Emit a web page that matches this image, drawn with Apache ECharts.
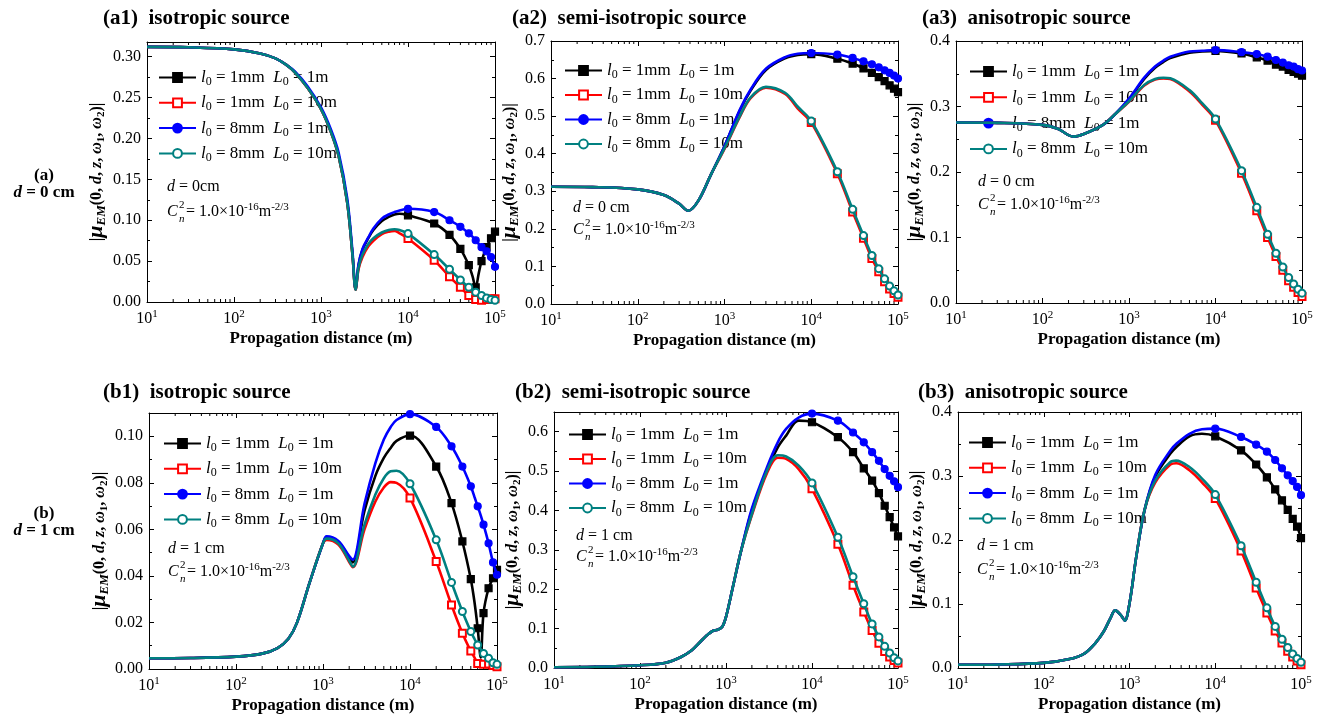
<!DOCTYPE html>
<html><head><meta charset="utf-8">
<script src="https://cdn.jsdelivr.net/npm/echarts@6/dist/echarts.min.js"></script>
<style>html,body{margin:0;padding:0;background:#fff}#c{width:1320px;height:718px}</style>
</head><body><div id="c"></div><script>
const FONT = '"Liberation Serif", "Times New Roman", serif';

// ---------- DATA ----------
const NAMES = ['l0 = 1mm  L0 = 1m', 'l0 = 1mm  L0 = 10m', 'l0 = 8mm  L0 = 1m', 'l0 = 8mm  L0 = 10m'];
const X_TICK_LABELS = ['10^1', '10^2', '10^3', '10^4', '10^5'];
const MINOR_X = [20,30,40,50,60,70,80,90,200,300,400,500,600,700,800,900,2000,3000,4000,5000,6000,7000,8000,9000,20000,30000,40000,50000,60000,70000,80000,90000];

// (a1) isotropic source, d = 0 cm
const X_A1 = [10,30,100,200,300,400,500,700,1000,1300,1600,2000,2300,2500,2700,3000,3500,4000,5000,6000,7000,8000,10000,20000,30000,40000,50000,55000,60000,65000,70000,80000,90000,100000];
const A1_BLACK = [.312,.3115,.309,.304,.298,.290,.281,.262,.236,.208,.178,.122,.058,.015,.045,.064,.078,.088,.099,.104,.107,.108,.106,.096,.082,.065,.045,.032,.018,.035,.050,.067,.078,.086];
const A1_RED   = [.312,.3115,.309,.304,.298,.290,.281,.262,.236,.208,.178,.122,.058,.015,.040,.055,.068,.075,.083,.086,.087,.084,.0776,.051,.031,.018,.008,.005,.003,.002,.002,.003,.004,.004];
const A1_BLUE  = [.312,.3115,.309,.304,.298,.290,.282,.264,.238,.211,.182,.127,.062,.016,.046,.065,.079,.090,.102,.107,.110,.112,.114,.110,.100,.092,.084,.080,.0755,.071,.067,.062,.055,.043];
const A1_TEAL  = [.312,.3115,.309,.304,.298,.290,.281,.262,.236,.208,.178,.122,.058,.015,.042,.058,.071,.078,.085,.088,.089,.088,.0837,.058,.040,.027,.018,.015,.012,.010,.008,.005,.003,.002];

// (a2) semi-isotropic source, d = 0 cm
const X_A2 = [10,30,100,200,300,383,500,700,1000,1500,2000,3000,5000,7000,10000,20000,30000,40000,50000,60000,70000,80000,90000,100000];
const A2_BLACK = [.312,.311,.305,.290,.267,.248,.275,.345,.420,.515,.568,.623,.654,.663,.665,.653,.640,.627,.615,.604,.593,.582,.573,.564];
const A2_RED   = [.312,.311,.305,.290,.267,.248,.275,.345,.413,.498,.548,.576,.559,.520,.483,.347,.245,.175,.121,.086,.059,.040,.028,.018];
const A2_BLUE  = [.312,.311,.305,.290,.267,.248,.275,.345,.420,.517,.571,.626,.657,.666,.668,.664,.655,.646,.638,.630,.622,.615,.608,.600];
const A2_TEAL  = [.312,.311,.305,.290,.267,.248,.275,.345,.415,.500,.550,.578,.562,.525,.487,.352,.252,.182,.129,.094,.067,.048,.035,.024];

// (a3) anisotropic source, d = 0 cm
const X_A3 = [10,30,100,150,229,300,500,700,1000,1500,2000,2500,3000,5000,7000,10000,20000,30000,40000,50000,60000,70000,80000,90000,100000];
const A3_BLACK = [.2755,.275,.272,.266,.254,.258,.272,.289,.311,.342,.359,.368,.374,.382,.384,.385,.381,.375,.370,.364,.361,.356,.353,.350,.347];
const A3_RED   = [.2755,.275,.272,.266,.254,.258,.272,.289,.307,.332,.341,.343,.342,.323,.303,.279,.198,.141,.100,.071,.050,.034,.024,.016,.010];
const A3_BLUE  = [.2755,.275,.272,.266,.254,.258,.272,.289,.312,.344,.361,.370,.376,.384,.385,.386,.383,.380,.376,.371,.367,.363,.361,.357,.355];
const A3_TEAL  = [.2755,.275,.272,.266,.254,.258,.272,.289,.308,.333,.342,.344,.343,.325,.305,.281,.202,.146,.105,.076,.055,.039,.029,.021,.015];

// (b1) isotropic source, d = 1 cm
const X_B1 = [10,30,100,200,300,400,500,700,1000,1100,1500,2000,2200,3000,4000,5000,6000,7000,10000,20000,30000,40000,50000,55000,60000,65000,70000,80000,90000,100000];
const B1_BLACK = [.0046,.0047,.0053,.0066,.009,.013,.0197,.037,.054,.0565,.0545,.048,.0458,.068,.083,.0907,.095,.098,.1003,.087,.0713,.0548,.0386,.029,.0175,.005,.024,.0347,.039,.0426];
const B1_RED   = [.0046,.0047,.0053,.0066,.009,.013,.0197,.037,.054,.0555,.0535,.046,.0437,.060,.072,.078,.0803,.080,.0735,.0462,.0275,.0154,.0077,.005,.0024,.0015,.002,.0022,.0015,.001];
const B1_BLUE  = [.0046,.0047,.0053,.0066,.009,.013,.0197,.037,.054,.057,.055,.0485,.047,.071,.0885,.0986,.104,.107,.1095,.104,.0957,.087,.0785,.074,.0699,.066,.062,.054,.0458,.0405];
const B1_TEAL  = [.0046,.0047,.0053,.0066,.009,.013,.0197,.037,.054,.056,.054,.0465,.044,.062,.075,.082,.085,.0852,.0796,.0555,.0372,.0247,.0161,.013,.0103,.0085,.0067,.0046,.0027,.002];

// (b2) semi-isotropic source, d = 1 cm
const X_B2 = [10,30,100,200,300,400,500,600,700,800,900,1000,1200,1500,2000,3000,4000,5000,7000,10000,20000,30000,40000,50000,60000,70000,80000,90000,100000];
const B2_BLACK = [.002,.003,.007,.0135,.028,.045,.066,.083,.094,.097,.104,.13,.205,.298,.400,.501,.560,.590,.628,.624,.586,.548,.507,.476,.444,.412,.383,.357,.334];
const B2_RED   = [.002,.003,.007,.0135,.028,.045,.066,.083,.094,.097,.104,.13,.205,.298,.388,.495,.534,.531,.505,.455,.314,.210,.142,.095,.063,.042,.028,.019,.013];
const B2_BLUE  = [.002,.003,.007,.0135,.028,.045,.066,.083,.094,.097,.104,.13,.205,.298,.405,.510,.573,.607,.636,.646,.628,.598,.573,.548,.526,.505,.488,.474,.459];
const B2_TEAL  = [.002,.003,.007,.0135,.028,.045,.066,.083,.094,.097,.104,.13,.205,.298,.391,.501,.540,.537,.514,.470,.332,.232,.163,.112,.079,.055,.038,.026,.018];

// (b3) anisotropic source, d = 1 cm
const X_B3 = [10,30,100,200,300,400,500,600,680,800,880,1000,1200,1500,2000,3000,3500,5000,7000,10000,20000,30000,40000,50000,60000,70000,80000,90000,100000];
const B3_BLACK = [.005,.0055,.008,.014,.023,.039,.057,.078,.090,.082,.074,.101,.174,.247,.299,.335,.345,.362,.366,.362,.340,.318,.298,.279,.262,.247,.233,.221,.203];
const B3_RED   = [.005,.0055,.008,.014,.023,.039,.057,.078,.090,.082,.074,.101,.174,.247,.290,.318,.320,.309,.290,.265,.183,.125,.086,.058,.039,.026,.017,.011,.005];
const B3_BLUE  = [.005,.0055,.008,.014,.023,.039,.057,.078,.090,.082,.074,.101,.174,.247,.302,.340,.350,.366,.373,.374,.361,.349,.338,.325,.312,.301,.292,.283,.270];
const B3_TEAL  = [.005,.0055,.008,.014,.023,.039,.057,.078,.090,.082,.074,.101,.174,.247,.293,.322,.324,.314,.296,.271,.191,.134,.094,.065,.045,.032,.022,.015,.009];

const Y_TICKS = {a1:[0,0.318,0.05,2], a2:[0,0.7,0.1,1], a3:[0,0.4,0.1,1], b1:[0,0.11,0.02,2], b2:[0,0.65,0.1,1], b3:[0,0.4,0.1,1]};

// ---------- LAYOUT ----------
const PANELS = [
  {key:'a1', title:'(a1)  isotropic source',      tx:103, ty:18,  grid:[147,42,348,260], x:X_A1, ys:[A1_BLACK,A1_RED,A1_BLUE,A1_TEAL], showMax:false, nameGap:39, leg:[158,76,25],   ann:[167,187,212,'0cm']},
  {key:'a2', title:'(a2)  semi-isotropic source', tx:512, ty:18,  grid:[551,41,347,263], x:X_A2, ys:[A2_BLACK,A2_RED,A2_BLUE,A2_TEAL], showMax:true,  nameGap:29, leg:[564,69,24.2], ann:[573,208,230,'0 cm']},
  {key:'a3', title:'(a3)  anisotropic source',    tx:922, ty:18,  grid:[956,41,346,262], x:X_A3, ys:[A3_BLACK,A3_RED,A3_BLUE,A3_TEAL], showMax:true,  nameGap:29, leg:[969,70,25.5], ann:[978,182,205,'0 cm']},
  {key:'b1', title:'(b1)  isotropic source',      tx:103, ty:392, grid:[149,413,348,256], x:X_B1, ys:[B1_BLACK,B1_RED,B1_BLUE,B1_TEAL], showMax:false, nameGap:36, leg:[163,442,25],  ann:[168,549,572,'1 cm']},
  {key:'b2', title:'(b2)  semi-isotropic source', tx:515, ty:392, grid:[554,412,344,256], x:X_B2, ys:[B2_BLACK,B2_RED,B2_BLUE,B2_TEAL], showMax:false, nameGap:29, leg:[568,433,24.2],ann:[576,536,557,'1 cm']},
  {key:'b3', title:'(b3)  anisotropic source',    tx:918, ty:392, grid:[958,412,343,256], x:X_B3, ys:[B3_BLACK,B3_RED,B3_BLUE,B3_TEAL], showMax:true,  nameGap:30, leg:[968,441,25],  ann:[977,546,570,'1 cm']}
];

const STYLES = [
  {color:'#000000', symbol:'rect'},
  {color:'#ff0000', symbol:'emptyRect'},
  {color:'#0000ff', symbol:'circle'},
  {color:'#008080', symbol:'emptyCircle'}
];

const Y_NAME = '{n||}{mu|μ}{sub|EM}{n|(0, }{i|d}{n|, }{i|z}{n|, }{i|ω}{ws|1}{n|, }{i|ω}{ws|2}{n|)|}';
const Y_RICH = {
  n:{fontFamily:FONT, fontSize:16, fontWeight:'bold', color:'#000'},
  i:{fontFamily:FONT, fontSize:16, fontWeight:'bold', fontStyle:'italic', color:'#000'},
  mu:{fontFamily:FONT, fontSize:22, fontWeight:'bold', fontStyle:'italic', color:'#000'},
  sub:{fontFamily:FONT, fontSize:13, fontWeight:'bold', fontStyle:'italic', color:'#000', padding:[10,0,0,0]},
  ws:{fontFamily:FONT, fontSize:11, fontWeight:'bold', color:'#000', padding:[9,0,0,0]}
};
const LEG_RICH = {
  n:{fontFamily:FONT, fontSize:17, color:'#000'},
  i:{fontFamily:FONT, fontSize:17, fontStyle:'italic', color:'#000'},
  sub:{fontFamily:FONT, fontSize:12, color:'#000', padding:[9,0,0,0]}
};
const ANN_RICH = {
  n:{fontFamily:FONT, fontSize:16, fill:'#000'},
  i:{fontFamily:FONT, fontSize:16, fontStyle:'italic', fill:'#000'},
  sup:{fontFamily:FONT, fontSize:11, fill:'#000', padding:[0,0,9,0]}
};

function legendLabel(name){
  const m = name.match(/l0 = (\S+)\s+L0 = (\S+)/);
  return '{i|l}{sub|0}{n| = ' + m[1] + '  }{i|L}{sub|0}{n| = ' + m[2] + '}';
}

const grid = [], xAxis = [], yAxis = [], series = [], legend = [], title = [], graphic = [];
const axisLineStyle = {color:'#000', width:1};

PANELS.forEach((p, k) => {
  const [ymin, ymax, step, dec] = Y_TICKS[p.key];
  grid.push({left:p.grid[0], top:p.grid[1], width:p.grid[2], height:p.grid[3]});
  xAxis.push({
    type:'log', logBase:10, gridIndex:k, min:10, max:100000, position:'bottom',
    axisLine:{onZero:false, lineStyle:axisLineStyle},
    axisTick:{inside:true, length:5, lineStyle:axisLineStyle},
    splitLine:{show:false},
    axisLabel:{margin:7, color:'#000',
      formatter: v => { const s = X_TICK_LABELS[Math.round(Math.log10(v)) - 1] || ''; const parts = s.split('^'); return '{b|' + parts[0] + '}{sup|' + parts[1] + '}'; },
      rich:{b:{fontFamily:FONT, fontSize:16, color:'#000'}, sup:{fontFamily:FONT, fontSize:11, color:'#000', padding:[0,0,9,0]}}},
    name:'Propagation distance (m)', nameLocation:'middle', nameGap:28,
    nameTextStyle:{fontFamily:FONT, fontSize:17, fontWeight:'bold', color:'#000'}
  });
  xAxis.push({
    type:'log', logBase:10, gridIndex:k, min:10, max:100000, position:'top',
    axisLine:{onZero:false, lineStyle:axisLineStyle},
    axisTick:{inside:true, length:5, lineStyle:axisLineStyle},
    axisLabel:{show:false}, splitLine:{show:false}
  });
  yAxis.push({
    type:'value', gridIndex:k, min:ymin, max:ymax, interval:step, position:'left',
    axisLine:{show:true, onZero:false, lineStyle:axisLineStyle},
    axisTick:{show:true, inside:true, length:5, lineStyle:axisLineStyle},
    minorTick:{show:true, splitNumber:2, length:3, lineStyle:axisLineStyle},
    splitLine:{show:false}, minorSplitLine:{show:false},
    axisLabel:{showMaxLabel:p.showMax, margin:6, formatter: v => v.toFixed(dec), fontFamily:FONT, fontSize:16, color:'#000'},
    name:Y_NAME, nameLocation:'middle', nameGap:p.nameGap, nameTextStyle:{rich:Y_RICH}
  });
  yAxis.push({
    type:'value', gridIndex:k, min:ymin, max:ymax, interval:step, position:'right',
    axisLine:{show:true, onZero:false, lineStyle:axisLineStyle},
    axisTick:{show:true, inside:true, length:5, lineStyle:axisLineStyle},
    minorTick:{show:true, splitNumber:2, length:3, lineStyle:axisLineStyle},
    splitLine:{show:false}, axisLabel:{show:false}
  });

  // minor ticks of the log x axes (2..9 x 10^n), bottom and top
  series.push({
    type:'custom', name:'minor-' + p.key, xAxisIndex:2*k, yAxisIndex:2*k, silent:true, clip:false, z:1,
    data: MINOR_X.map(x => [x, ymin]),
    renderItem: (params, api) => {
      const b = api.coord([api.value(0), ymin]);
      const t = api.coord([api.value(0), ymax]);
      return {type:'group', children:[
        {type:'line', shape:{x1:b[0], y1:b[1], x2:b[0], y2:b[1]-3}, style:{stroke:'#000', lineWidth:1}},
        {type:'line', shape:{x1:t[0], y1:t[1], x2:t[0], y2:t[1]+3}, style:{stroke:'#000', lineWidth:1}}
      ]};
    }
  });

  NAMES.forEach((nm, s) => {
    const st = STYLES[s];
    series.push({
      type:'line', name:nm, xAxisIndex:2*k, yAxisIndex:2*k,
      smooth:0.35, color:st.color, symbol:st.symbol, symbolSize:7, showSymbol:true, showAllSymbol:true,
      lineStyle:{width:2.6, color:st.color},
      itemStyle:{color:st.color, borderColor:st.color, borderWidth:1.2},
      emphasis:{disabled:true}, z:3 + s,
      data: p.x.map((x, i) => (x >= 10000 && x % 10000 === 0) ? {value:[x, p.ys[s][i]]} : {value:[x, p.ys[s][i]], symbol:'none'})
    });
  });

  legend.push({
    orient:'vertical', left:p.leg[0], top:p.leg[1] - 7, itemWidth:37, itemHeight:11,
    itemGap:p.leg[2] - 18.7, padding:0, selectedMode:false, data:NAMES,
    formatter:legendLabel, textStyle:{rich:LEG_RICH}
  });

  title.push({text:p.title, left:p.tx, top:p.ty - 10, padding:0,
    textStyle:{fontFamily:FONT, fontSize:21, fontWeight:'bold', color:'#000'}});

  const [ax, dy, cy, dl] = p.ann;
  graphic.push({type:'text', silent:true, style:{x:ax, y:dy, text:'{i|d}{n| = ' + dl + '}', rich:ANN_RICH, verticalAlign:'middle', align:'left'}});
  graphic.push({type:'text', silent:true, style:{x:ax, y:cy, text:'{i|C}', rich:ANN_RICH, verticalAlign:'middle', align:'left'}});
  graphic.push({type:'text', silent:true, style:{x:ax + 12, y:cy - 7, text:'2', font:'11px ' + FONT, fill:'#000', verticalAlign:'middle', align:'left'}});
  graphic.push({type:'text', silent:true, style:{x:ax + 12, y:cy + 7, text:'n', font:'italic 11px ' + FONT, fill:'#000', verticalAlign:'middle', align:'left'}});
  graphic.push({type:'text', silent:true, style:{x:ax + 19, y:cy, text:'{n|= 1.0×10}{sup|-16}{n|m}{sup|-2/3}', rich:ANN_RICH, verticalAlign:'middle', align:'left'}});
});

const ROW_RICH = {
  b:{fontFamily:FONT, fontSize:17, fontWeight:'bold', fill:'#000'},
  bi:{fontFamily:FONT, fontSize:17, fontWeight:'bold', fontStyle:'italic', fill:'#000'}
};
graphic.push({type:'text', silent:true, style:{x:44, y:176, text:'{b|(a)}', rich:ROW_RICH, align:'center', verticalAlign:'middle'}});
graphic.push({type:'text', silent:true, style:{x:44, y:193, text:'{bi|d}{b| = 0 cm}', rich:ROW_RICH, align:'center', verticalAlign:'middle'}});
graphic.push({type:'text', silent:true, style:{x:44, y:514, text:'{b|(b)}', rich:ROW_RICH, align:'center', verticalAlign:'middle'}});
graphic.push({type:'text', silent:true, style:{x:44, y:531, text:'{bi|d}{b| = 1 cm}', rich:ROW_RICH, align:'center', verticalAlign:'middle'}});

const chart = echarts.init(document.getElementById('c'), null, {renderer:'canvas'});
chart.setOption({
  animation:false, backgroundColor:'#fff',
  textStyle:{fontFamily:FONT},
  grid, xAxis, yAxis, series, legend, title, graphic
});
</script></body></html>
